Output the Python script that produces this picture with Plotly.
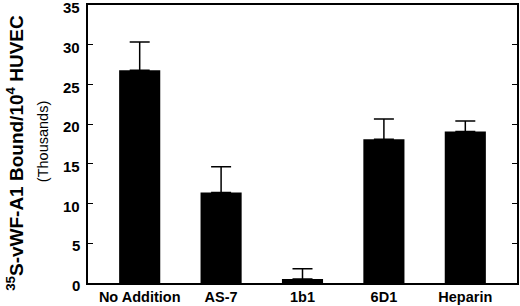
import plotly.graph_objects as go

categories = ["No Addition", "AS-7", "1b1", "6D1", "Heparin"]
values = [26.8, 11.4, 0.5, 18.1, 19.1]
err_upper = [3.55, 3.25, 1.3, 2.55, 1.3]
y_ticks = [0, 5, 10, 15, 20, 25, 30, 35]

fig = go.Figure(go.Bar(
    x=categories, y=values,
    marker=dict(color="black", line=dict(width=0)),
    width=0.505,
    error_y=dict(type="data", array=err_upper, arrayminus=[0]*len(values),
                 symmetric=False, color="black", thickness=1.5, width=10),
))

font_family = "Liberation Sans, Arial, sans-serif"
tick_annotations = [
    dict(text=str(v), xref="paper", yref="y", x=0, y=v, xanchor="right", yanchor="middle",
         xshift=-6, yshift=-2.5, showarrow=False,
         font=dict(size=15, family=font_family, weight="bold", color="black"))
    for v in y_ticks
]

fig.update_layout(
    width=520, height=306,
    margin=dict(l=88, r=3, t=5, b=23, autoexpand=False),
    paper_bgcolor="white", plot_bgcolor="white",
    showlegend=False,
    font=dict(family=font_family, color="black"),
    xaxis=dict(range=[-0.635, 4.635], showline=True, linecolor="black", linewidth=1.5,
               mirror=True, ticks="", showgrid=False, automargin=False,
               ticklabelstandoff=0,
               tickfont=dict(size=14.5, family=font_family, weight="bold")),
    yaxis=dict(range=[0, 35.02], tickvals=y_ticks, showticklabels=False, showline=True,
               linecolor="black", linewidth=1.5, mirror="ticks", ticks="inside", ticklen=5,
               tickwidth=1.2, tickcolor="black", showgrid=False, zeroline=False,
               automargin=False),
    annotations=tick_annotations + [
        dict(text="<sup>35</sup>S-vWF-A1 Bound/10<sup>4</sup> HUVEC", textangle=-90,
             xref="paper", yref="paper", x=-0.169, y=0.47, xanchor="center", yanchor="middle",
             showarrow=False, font=dict(size=19, family=font_family, weight="bold")),
        dict(text="(Thousands)", textangle=-90,
             xref="paper", yref="paper", x=-0.105, y=0.51, xanchor="center", yanchor="middle",
             showarrow=False, font=dict(size=14.5, family=font_family)),
    ],
)

fig.write_html("out.html", config={"displayModeBar": False},
               post_script="document.body.style.margin='0px';document.body.style.overflow='hidden';")
